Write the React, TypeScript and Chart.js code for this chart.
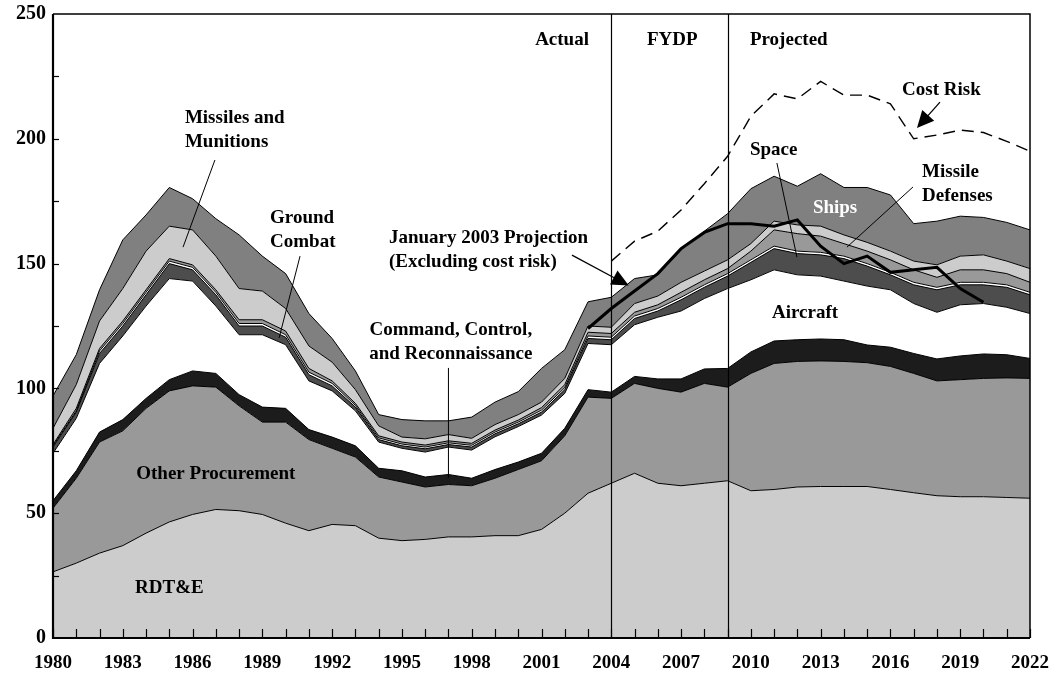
import React, { useEffect, useRef } from "react";
import { Chart, registerables } from "chart.js";

Chart.register(...registerables);

// ---------- DATA ----------
const years = [
  "1980", "1981", "1982", "1983", "1984", "1985", "1986", "1987", "1988", "1989",
  "1990", "1991", "1992", "1993", "1994", "1995", "1996", "1997", "1998", "1999",
  "2000", "2001", "2002", "2003", "2004", "2005", "2006", "2007", "2008", "2009",
  "2010", "2011", "2012", "2013", "2014", "2015", "2016", "2017", "2018", "2019",
  "2020", "2021", "2022",
];

const xTickLabels = [
  "1980", "1983", "1986", "1989", "1992", "1995", "1998", "2001", "2004", "2007",
  "2010", "2013", "2016", "2019", "2022",
];
const yTickValues = [0, 50, 100, 150, 200, 250];

// Stacked categories, bottom to top (billions of dollars)
const rdte = [
  26.5, 30, 34, 37, 42, 46.5, 49.5, 51.5, 51, 49.5,
  46, 43, 45.5, 45, 40, 39, 39.5, 40.5, 40.5, 41,
  41, 43.5, 50, 58, 62, 66, 62, 61, 62, 63,
  59, 59.5, 60.5, 60.7, 60.7, 60.7, 59.5, 58.2, 57, 56.6,
  56.6, 56.3, 56,
];
const otherProcurement = [
  25.5, 34, 44.5, 46, 50, 52.5, 51.5, 49, 42, 37,
  40.5, 36.5, 30.5, 27.5, 24.5, 23.5, 21, 21, 20.5, 23,
  26.5, 27.5, 31, 38.5, 34, 36, 38, 37.5, 40, 37.5,
  47, 50.5, 50.3, 50.3, 50.1, 49.6, 49.3, 47.8, 46, 46.9,
  47.4, 47.9, 48,
];
const commandControl = [
  3, 3, 4, 4.5, 4, 4.5, 6, 5.5, 4.5, 6,
  5.5, 4, 4.5, 4.5, 3.5, 4.5, 4, 4, 3, 3.5,
  3, 3, 3, 3, 2.5, 2.8, 3.8, 5.3, 5.8, 7.5,
  8.6, 9, 8.7, 8.8, 8.7, 7.1, 7.7, 8, 8.8, 9.5,
  9.8, 9.3, 8,
];
const aircraft = [
  19, 21, 27.5, 33.5, 37, 40.5, 36, 27, 24, 29,
  25.5, 19.5, 18.5, 14, 10.5, 9, 10, 11, 11.3, 13.1,
  14.2, 15.3, 14, 18.5, 19, 20.7, 24.7, 27.2, 28.2, 32,
  28.9, 28.5, 26, 25.2, 23.5, 23.6, 23, 20, 18.7, 20.5,
  20.2, 19, 18,
];
const groundCombat = [
  2.5, 2.5, 4, 4, 4.5, 6, 4.5, 4.5, 3.5, 3.5,
  3, 2.5, 2, 1.5, 1, 1, 1.3, 1, 1.2, 1.2,
  1.1, 1.2, 1.5, 2, 2, 2.5, 2.5, 4.5, 4.5, 5,
  7, 8.5, 8.5, 8.5, 9, 8, 6, 7.5, 9, 8,
  7.5, 8, 7.5,
];
const space = [
  0.5, 0.5, 1, 1, 1, 1, 1, 1, 1, 1,
  1, 1, 1, 0.7, 0.7, 0.7, 0.7, 0.7, 0.7, 0.7,
  0.7, 0.8, 0.8, 1, 1, 1, 1, 1, 1, 1,
  1, 1, 1, 1, 1, 1, 1, 1, 1, 1,
  1, 1, 1,
];
const missileDefenses = [
  0.5, 1, 1, 1, 1, 1, 1, 1, 1.5, 1.5,
  1.5, 1.5, 1, 0.8, 0.8, 0.8, 0.8, 0.8, 0.8, 0.8,
  0.8, 1, 1.2, 1.5, 1.5, 1.5, 1.5, 2, 2, 2,
  3.5, 6.5, 7, 6.5, 5, 5, 5, 5, 4, 5,
  5, 4.5, 4,
];
const missilesMunitions = [
  6.5, 9.5, 11, 13, 15.5, 13, 14, 13.5, 12.5, 11.5,
  9, 9, 7.5, 5.5, 4, 2, 2.5, 2.5, 2, 2.2,
  2.2, 2.2, 2.5, 2.5, 2.5, 3.5, 3.5, 4, 3.5, 3.5,
  3, 3.5, 3.5, 4, 3.5, 3.5, 3.5, 3.5, 5, 5.5,
  6, 5, 5.5,
];
const ships = [
  13, 12, 12.5, 19.5, 14.5, 15.5, 12.5, 15, 21.5, 14,
  14, 13, 9.5, 7.5, 4.5, 7, 7.2, 5.5, 8.5, 9,
  9.2, 13.5, 11.5, 9.7, 12, 10, 8.5, 13, 16, 18.5,
  22, 18, 15.5, 21, 19, 22, 22.5, 15, 17.5, 16,
  15, 15.5, 15.5,
];

// Overlay lines (totals)
const projectionYears = [
  "2003", "2004", "2005", "2006", "2007", "2008", "2009", "2010", "2011",
  "2012", "2013", "2014", "2015", "2016", "2017", "2018", "2019", "2020",
];
const projectionValues = [
  124, 132, 139, 146, 156, 162.5, 166, 166, 165,
  167.5, 157, 150, 153, 146.5, 147.5, 148.5, 140, 134.5,
];
const costRiskYears = [
  "2004", "2005", "2006", "2007", "2008", "2009", "2010", "2011", "2012", "2013",
  "2014", "2015", "2016", "2017", "2018", "2019", "2020", "2021", "2022",
];
const costRiskValues = [
  151, 159, 163, 171.5, 182, 193, 209, 218, 216, 223,
  217.5, 217.5, 214, 200, 201.5, 203.5, 202.5, 199, 195,
];

// Period dividers
const periodLines = [2004, 2009];

// ---------- STYLE ----------
const FONT = '"Liberation Serif", "Times New Roman", serif';

const areas = [
  { label: "RDT&E", data: rdte, color: "#cccccc" },
  { label: "Other Procurement", data: otherProcurement, color: "#999999" },
  { label: "Command, Control, and Reconnaissance", data: commandControl, color: "#1c1c1c" },
  { label: "Aircraft", data: aircraft, color: "#ffffff" },
  { label: "Ground Combat", data: groundCombat, color: "#4d4d4d" },
  { label: "Space", data: space, color: "#ffffff" },
  { label: "Missile Defenses", data: missileDefenses, color: "#999999" },
  { label: "Missiles and Munitions", data: missilesMunitions, color: "#cccccc" },
  { label: "Ships", data: ships, color: "#808080" },
];

type Label = { text: string[]; year: number; value: number; align: CanvasTextAlign; color?: string };
const labels: Label[] = [
  { text: ["Missiles and", "Munitions"], year: 1985.67, value: 208.3, align: "left" },
  { text: ["Ground", "Combat"], year: 1989.33, value: 168.3, align: "left" },
  { text: ["Command, Control,", "and Reconnaissance"], year: 1997.1, value: 123.4, align: "center" },
  { text: ["January 2003 Projection", "(Excluding cost risk)"], year: 1994.44, value: 160.3, align: "left" },
  { text: ["Actual"], year: 2003.04, value: 239.6, align: "right" },
  { text: ["FYDP"], year: 2005.53, value: 239.6, align: "left" },
  { text: ["Projected"], year: 2009.96, value: 239.6, align: "left" },
  { text: ["Cost Risk"], year: 2016.5, value: 219.6, align: "left" },
  { text: ["Space"], year: 2009.96, value: 195.5, align: "left" },
  { text: ["Missile", "Defenses"], year: 2017.36, value: 186.7, align: "left" },
  { text: ["Ships"], year: 2013.62, value: 172.3, align: "center", color: "#ffffff" },
  { text: ["Aircraft"], year: 2012.33, value: 130.2, align: "center" },
  { text: ["Other Procurement"], year: 1987.0, value: 65.7, align: "center" },
  { text: ["RDT&E"], year: 1983.53, value: 20, align: "left" },
];

type Pointer = { from: [number, number]; to: [number, number]; arrow?: boolean; width?: number };
const pointers: Pointer[] = [
  { from: [1986.96, 191.5], to: [1985.59, 156.6] },
  { from: [1990.62, 153], to: [1989.72, 120.2] },
  { from: [1997, 108.2], to: [1997, 64.1] },
  { from: [2011.12, 190.3], to: [2011.98, 152.6] },
  { from: [2016.97, 180.7], to: [2014.13, 156.6] },
  { from: [2002.31, 153.4], to: [2004.75, 141.2], arrow: true, width: 1.3 },
  { from: [2018.13, 214.7], to: [2017.14, 204.3], arrow: true, width: 1.3 },
];

const overlay = {
  id: "overlay",
  afterDatasetsDraw(chart: any) {
    const ctx: CanvasRenderingContext2D = chart.ctx;
    const xs = chart.scales.x;
    const ys = chart.scales.y;
    const { top, bottom, left, right } = chart.chartArea;
    const px = (yr: number) => xs.getPixelForValue(yr - 1980);
    const py = (v: number) => ys.getPixelForValue(v);
    ctx.save();

    // period dividers
    ctx.strokeStyle = "#000";
    ctx.lineWidth = 1.2;
    periodLines.forEach((yr) => {
      const x = Math.round(px(yr)) + 0.5;
      ctx.beginPath();
      ctx.moveTo(x, top);
      ctx.lineTo(x, bottom);
      ctx.stroke();
    });

    // pointers
    pointers.forEach((p) => {
      const x1 = px(p.from[0]), y1 = py(p.from[1]);
      const x2 = px(p.to[0]), y2 = py(p.to[1]);
      ctx.strokeStyle = "#000";
      ctx.fillStyle = "#000";
      ctx.lineWidth = p.width || 1;
      const ang = Math.atan2(y2 - y1, x2 - x1);
      const headLen = 17;
      const ex = p.arrow ? x2 - Math.cos(ang) * (headLen - 2) : x2;
      const ey = p.arrow ? y2 - Math.sin(ang) * (headLen - 2) : y2;
      ctx.beginPath();
      ctx.moveTo(x1, y1);
      ctx.lineTo(ex, ey);
      ctx.stroke();
      if (p.arrow) {
        const hw = 8;
        const bx = x2 - Math.cos(ang) * headLen;
        const by = y2 - Math.sin(ang) * headLen;
        ctx.beginPath();
        ctx.moveTo(x2, y2);
        ctx.lineTo(bx + Math.sin(ang) * hw, by - Math.cos(ang) * hw);
        ctx.lineTo(bx - Math.sin(ang) * hw, by + Math.cos(ang) * hw);
        ctx.closePath();
        ctx.fill();
      }
    });

    // labels
    ctx.font = `bold 19px ${FONT}`;
    ctx.textBaseline = "middle";
    labels.forEach((l) => {
      ctx.fillStyle = l.color || "#000";
      ctx.textAlign = l.align;
      const x = px(l.year);
      const y = py(l.value);
      l.text.forEach((t, i) => ctx.fillText(t, x, y + i * 24));
    });

    // frame
    ctx.strokeStyle = "#000";
    ctx.lineWidth = 1.5;
    ctx.beginPath();
    ctx.moveTo(left, top);
    ctx.lineTo(right, top);
    ctx.lineTo(right, bottom);
    ctx.stroke();
    ctx.lineWidth = 2.2;
    ctx.beginPath();
    ctx.moveTo(left, top);
    ctx.lineTo(left, bottom);
    ctx.lineTo(right, bottom);
    ctx.stroke();

    // inward tick marks
    ctx.lineWidth = 1.2;
    years.forEach((_, i) => {
      const x = Math.round(xs.getPixelForValue(i)) + 0.5;
      ctx.beginPath();
      ctx.moveTo(x, bottom);
      ctx.lineTo(x, bottom - 9);
      ctx.stroke();
    });
    for (let v = 25; v < 250; v += 25) {
      const y = Math.round(py(v)) + 0.5;
      ctx.beginPath();
      ctx.moveTo(left, y);
      ctx.lineTo(left + 6, y);
      ctx.stroke();
    }
    ctx.restore();
  },
};

export default function App() {
  const ref = useRef<HTMLCanvasElement>(null);
  useEffect(() => {
    const datasets: any[] = areas.map((a, i) => ({
      label: a.label,
      data: a.data,
      backgroundColor: a.color,
      borderColor: "#000",
      borderWidth: 1,
      fill: i === 0 ? "origin" : "-1",
      pointRadius: 0,
      tension: 0,
      stack: "budget",
    }));
    datasets.push({
      label: "January 2003 Projection",
      data: projectionYears.map((y, i) => ({ x: y, y: projectionValues[i] })),
      borderColor: "#000",
      borderWidth: 3,
      fill: false,
      pointRadius: 0,
      tension: 0,
      stack: "projection",
      order: -1,
    });
    datasets.push({
      label: "Cost Risk",
      data: costRiskYears.map((y, i) => ({ x: y, y: costRiskValues[i] })),
      borderColor: "#000",
      borderWidth: 1.4,
      borderDash: [12, 7],
      fill: false,
      pointRadius: 0,
      tension: 0,
      stack: "risk",
      order: -1,
    });

    const chart = new Chart(ref.current as HTMLCanvasElement, {
      type: "line",
      data: { labels: years, datasets },
      options: {
        animation: false,
        responsive: true,
        maintainAspectRatio: false,
        events: [],
        layout: { padding: { top: 14, right: 23, left: 0, bottom: 0 } },
        plugins: {
          legend: { display: false },
          tooltip: { enabled: false },
          filler: { drawTime: "beforeDatasetsDraw", propagate: false },
        } as any,
        scales: {
          x: {
            type: "category",
            offset: false,
            grid: { display: false, drawTicks: false },
            border: { display: false },
            ticks: {
              autoSkip: false,
              maxRotation: 0,
              padding: 14,
              color: "#000",
              font: { family: FONT, size: 19, weight: "bold" },
              callback: (_v: any, i: number) => (xTickLabels.includes(years[i]) ? years[i] : ""),
            },
            afterFit: (s: any) => {
              s.height = 37;
              s.paddingLeft = 0;
              s.paddingRight = 0;
            },
          },
          y: {
            stacked: true,
            min: 0,
            max: 250,
            grid: { display: false, drawTicks: false },
            border: { display: false },
            afterBuildTicks: (s: any) => {
              s.ticks = yTickValues.map((v) => ({ value: v }));
            },
            ticks: {
              padding: 7,
              color: "#000",
              font: { family: FONT, size: 20, weight: "bold" },
            },
            afterFit: (s: any) => {
              s.width = 53;
              s.paddingTop = 0;
              s.paddingBottom = 0;
            },
          },
        },
      },
      plugins: [overlay],
    });
    return () => chart.destroy();
  }, []);

  return (
    <div style={{ position: "absolute", left: 0, top: 0, width: 1053, height: 675, background: "#fff" }}>
      <canvas ref={ref} />
    </div>
  );
}
